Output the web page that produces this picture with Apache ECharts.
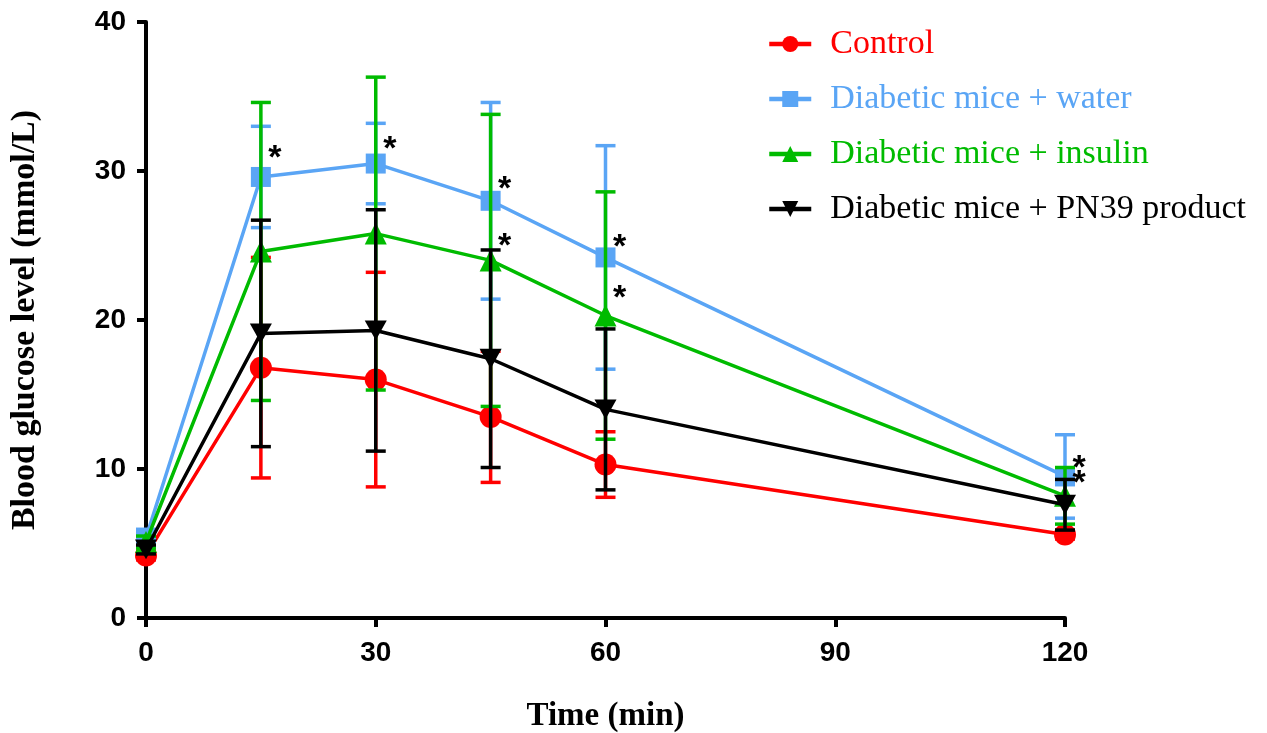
<!DOCTYPE html>
<html><head><meta charset="utf-8">
<script src="https://cdn.jsdelivr.net/npm/echarts@6/dist/echarts.min.js"></script>
<style>html,body{margin:0;padding:0;background:#fff}#c{width:1267px;height:733px}</style>
</head><body><div id="c"></div>
<script>
const times = [0, 15, 30, 45, 60, 120];
const seriesNames = ['Control', 'Diabetic mice + water', 'Diabetic mice + insulin', 'Diabetic mice + PN39 product'];
const controlMean = [4.2, 16.8, 16.0, 13.5, 10.3, 5.6];
const controlErr  = [0.3, 7.4, 7.2, 4.4, 2.2, 0.3];
const waterMean   = [5.4, 29.6, 30.5, 28.0, 24.2, 9.5];
const waterErr    = [0.4, 3.4, 2.7, 6.6, 7.5, 2.8];
const insulinMean = [5.1, 24.6, 25.8, 24.0, 20.3, 8.2];
const insulinErr  = [0.4, 10.0, 10.5, 9.8, 8.3, 1.9];
const pnMean      = [4.6, 19.1, 19.3, 17.4, 14.0, 7.6];
const pnErr       = [0.3, 7.6, 8.1, 7.3, 5.4, 1.7];
const asterisks   = [[15, 31.3], [30, 31.9], [45, 29.2], [60, 25.3], [45, 25.4], [60, 21.9], [120, 10.5], [120, 9.5]];
const yTicks = {min: 0, max: 40, interval: 10};
const xTicks = {min: 0, max: 120, interval: 30};

const colors = ['#ff0000', '#5aa5f5', '#00bb00', '#000000'];
const symbols = ['circle', 'rect', 'triangle', 'path://M0,0 L10,0 L5,9 Z'];
const symbolSizes = [22, 20, 22, 22];
const means = [controlMean, waterMean, insulinMean, pnMean];
const errs = [controlErr, waterErr, insulinErr, pnErr];

const series = [];
means.forEach((m, i) => {
  series.push({
    type: 'custom', name: seriesNames[i] + ' err', z: 2 + i * 2,
    data: times.map((t, k) => [t, m[k] - errs[i][k], m[k] + errs[i][k]]),
    renderItem: (params, api) => {
      const lo = api.coord([api.value(0), api.value(1)]);
      const hi = api.coord([api.value(0), api.value(2)]);
      const w = 10;
      const st = {stroke: colors[i], lineWidth: 3.5};
      return {type: 'group', children: [
        {type: 'line', shape: {x1: lo[0], y1: lo[1], x2: hi[0], y2: hi[1]}, style: st},
        {type: 'line', shape: {x1: lo[0] - w, y1: lo[1], x2: lo[0] + w, y2: lo[1]}, style: st},
        {type: 'line', shape: {x1: hi[0] - w, y1: hi[1], x2: hi[0] + w, y2: hi[1]}, style: st}
      ]};
    },
    silent: true, legendHoverLink: false
  });
  series.push({
    type: 'line', name: seriesNames[i], z: 3 + i * 2,
    data: times.map((t, k) => [t, m[k]]),
    symbol: symbols[i], symbolSize: symbolSizes[i], symbolKeepAspect: true,
    showAllSymbol: true,
    lineStyle: {color: colors[i], width: 3.5},
    itemStyle: {color: colors[i]},
    animation: false
  });
});
series.push({
  type: 'custom', name: 'sig', z: 20, silent: true,
  data: asterisks,
  renderItem: (params, api) => {
    const p = api.coord([api.value(0), api.value(1)]);
    return {type: 'text', x: p[0] + 14, y: p[1] + 7,
      style: {text: '*', fill: '#000', font: 'bold 34px "Liberation Sans"', textAlign: 'center', textVerticalAlign: 'middle'}};
  }
});

const chart = echarts.init(document.getElementById('c'), null, {renderer: 'canvas'});
chart.setOption({
  animation: false,
  backgroundColor: '#fff',
  grid: {left: 146, right: 202, top: 22, bottom: 115, containLabel: false, outerBoundsMode: 'none'},
  legend: {
    data: seriesNames.map((n, i) => ({name: n, textStyle: {color: colors[i]}})),
    orient: 'vertical', left: 767, top: 27, padding: 0, itemGap: 21, itemWidth: 42, itemHeight: 20,
    lineStyle: {width: 4.5},
    textStyle: {fontFamily: 'Liberation Serif', fontSize: 34, lineHeight: 34, padding: [0, 0, 0, 14]}
  },
  xAxis: {
    type: 'value', min: xTicks.min, max: xTicks.max, interval: xTicks.interval,
    name: 'Time (min)', nameLocation: 'middle', nameGap: 82,
    nameTextStyle: {fontFamily: 'Liberation Serif', fontWeight: 'bold', fontSize: 33, color: '#000'},
    axisLine: {lineStyle: {color: '#000', width: 4}},
    axisTick: {show: true, length: 9, lineStyle: {color: '#000', width: 4}},
    axisLabel: {color: '#000', fontFamily: 'Liberation Sans', fontWeight: 'bold', fontSize: 28, margin: 21},
    splitLine: {show: false}
  },
  yAxis: {
    type: 'value', min: yTicks.min, max: yTicks.max, interval: yTicks.interval,
    name: 'Blood glucose level (mmol/L)', nameLocation: 'middle', nameGap: 104,
    nameTextStyle: {fontFamily: 'Liberation Serif', fontWeight: 'bold', fontSize: 34, color: '#000'},
    axisLine: {show: true, lineStyle: {color: '#000', width: 4}},
    axisTick: {show: true, length: 9, lineStyle: {color: '#000', width: 4}},
    axisLabel: {color: '#000', fontFamily: 'Liberation Sans', fontWeight: 'bold', fontSize: 28, margin: 20},
    splitLine: {show: false}
  },
  series: series
});
</script></body></html>
